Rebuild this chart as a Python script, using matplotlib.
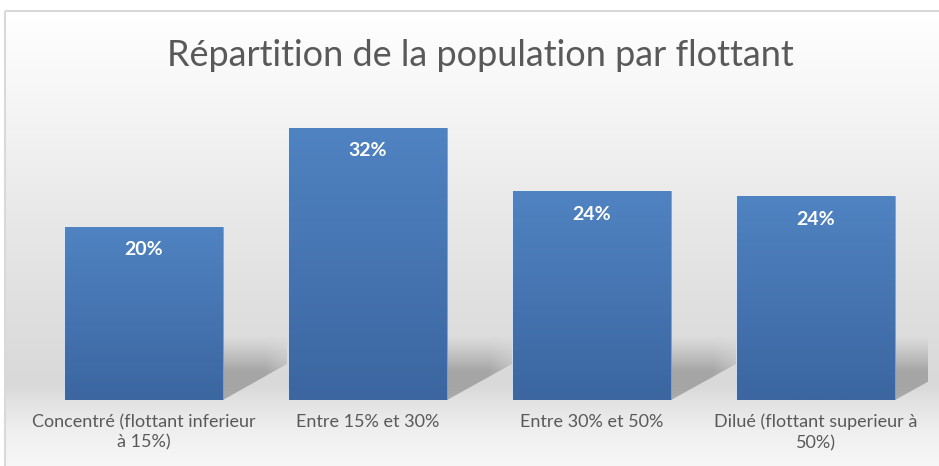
import numpy as np
import matplotlib
matplotlib.use("Agg")
import matplotlib.pyplot as plt
from matplotlib.patches import Polygon, Rectangle
from matplotlib.colors import to_rgb

# ---- data ----
categories = ["Concentré (flottant inferieur\nà 15%)", "Entre 15% et 30%",
              "Entre 30% et 50%", "Dilué (flottant superieur à\n50%)"]
values = [0.2025, 0.318, 0.244, 0.238]
title = "Répartition de la population par flottant"

W, H = 939, 466
plt.rcParams['font.family'] = ['Lato', 'DejaVu Sans']
fig = plt.figure(figsize=(W / 100, H / 100), dpi=100)
fig.patch.set_facecolor('white')

# ---- background gradient (chart area) ----
bg = fig.add_axes([0, 0, 1, 1], zorder=-10)
bg.set_axis_off()
stops_y = [0, 11, 100, 200, 300, 385, 400, 430, 466]
stops_c = ['#ffffff', '#ffffff', '#f6f6f6', '#eaeaea', '#e0e0e0', '#d9d9d9', '#e2e2e2', '#efefef', '#f7f7f7']
rows = np.arange(H)
cols = np.array([to_rgb(c) for c in stops_c])
grad = np.stack([np.interp(rows, stops_y, cols[:, k]) for k in range(3)], axis=1)
img = np.repeat(grad[:, None, :], W, axis=1)
img[:11, :, :] = 1.0
img[:, :5, :] = 1.0
bg.imshow(img, extent=[0, W, H, 0], aspect='auto', interpolation='bilinear')
bg.set_xlim(0, W)
bg.set_ylim(H, 0)
bg.add_patch(Rectangle((5, 11), W, H, fill=False, edgecolor='#d9d9d9', lw=1.5))

# ---- main axes ----
ax = fig.add_axes([31.5 / W, 66 / H, 896.5 / W, 0.35 * 856 / H])
ax.set_facecolor('none')
x = np.arange(len(categories))
bars = ax.bar(x, values, width=158 / 224.3, color='#4775b0', edgecolor='#7fa3d2', lw=0.6, zorder=3)
ax.set_xlim(-0.5, len(categories) - 0.5)
ax.set_ylim(0, 0.35)

top_c = np.array(to_rgb('#5083c2'))
bot_c = np.array(to_rgb('#3b66a0'))
t = np.linspace(0, 1, 100)[:, None]
bar_grad = (top_c * (1 - t) + bot_c * t)[:, None, :]

for rect in bars:
    x0, w, h = rect.get_x(), rect.get_width(), rect.get_height()
    im = ax.imshow(bar_grad, extent=[x0, x0 + w, 0, h], aspect='auto', zorder=3.5,
                   interpolation='bilinear')
    im.set_clip_path(rect)
    # shadow behind bar, to its right
    x1 = x0 + w
    sw, sh, sd = 0.29, 0.075, 0.042
    poly = Polygon([(x1, 0), (x1, sh), (x1 + sw, sh), (x1 + sw, sd)], closed=True,
                   transform=ax.transData, facecolor='none', edgecolor='none')
    ax.add_patch(poly)
    ny, nx = 60, 60
    yy = np.linspace(1, 0, ny)[:, None]   # 1 at top, 0 at bottom
    xx = np.linspace(0, 1, nx)[None, :]
    a_v = np.clip((1 - yy) / 0.55, 0, 1) ** 1.2
    a_h = np.clip((1 - xx) / 0.35, 0, 1)
    alpha = 0.5 * a_v * (0.55 + 0.45 * a_h)
    sh_img = np.zeros((ny, nx, 4))
    sh_img[..., :3] = 0.45
    sh_img[..., 3] = alpha
    sim = ax.imshow(sh_img, extent=[x1, x1 + sw, 0, sh], aspect='auto', zorder=2,
                    interpolation='bilinear')
    sim.set_clip_path(poly)
    ax.annotate(f"{h:.0%}", xy=(x0 + w / 2, h), xytext=(0, -23), textcoords='offset pixels',
                ha='center', va='center', color='white', fontsize=14, fontweight='bold',
                zorder=5)

ax.set_xticks(x, categories, multialignment='center', linespacing=1.35)
ax.tick_params(axis='x', length=0, pad=10, labelsize=13, labelcolor='#595959')
ax.set_yticks([])
for s in ax.spines.values():
    s.set_visible(False)

fig.text(0.512, (H - 66) / H, title, ha='center', va='baseline', fontsize=26,
         color='#595959')

fig.savefig('out.png', dpi=100)
